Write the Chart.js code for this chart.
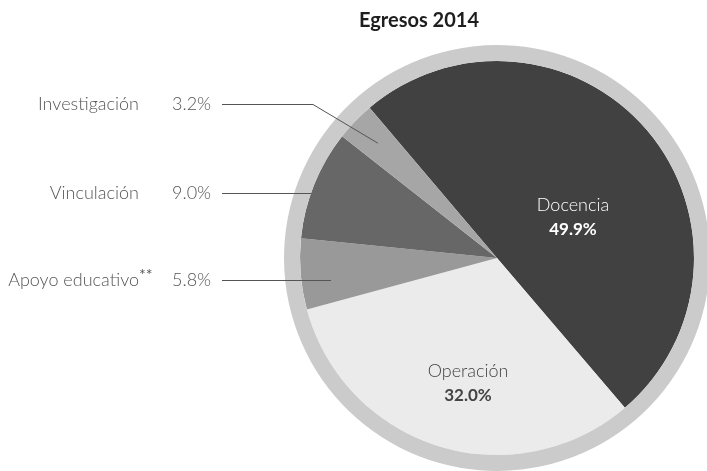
<!DOCTYPE html>
<html>
<head>
<meta charset="utf-8">
<script src="https://cdn.jsdelivr.net/npm/chart.js@4"></script>
<style>
  html, body { margin: 0; padding: 0; background: #fff; overflow: hidden; }
  #wrap { position: absolute; left: 0; top: 0; width: 720px; height: 471px; }
</style>
</head>
<body>
<div id="wrap"><canvas id="c"></canvas></div>
<script>
// ---- data ----
const title = 'Egresos 2014';
const categories = ['Docencia', 'Operación', 'Apoyo educativo', 'Vinculación', 'Investigación'];
const values = [49.9, 32.0, 5.8, 9.0, 3.2];
const footnotes = ['', '', '**', '', ''];

// ---- styles ----
const sliceColors = ['#414141', '#ebebeb', '#999999', '#676767', '#a6a6a6'];
const ringColor = '#cbcbcb';
const FONT = 'Lato, "Open Sans", sans-serif';

const fmt = v => v.toFixed(1) + '%';

const labelPlugin = {
  id: 'labels',
  afterDraw(chart) {
    const ctx = chart.ctx;
    const arcs = chart.getDatasetMeta(1).data;
    const a0 = arcs[0];
    const cx = a0.x, cy = a0.y, R = a0.outerRadius;
    ctx.save();

    // title
    ctx.fillStyle = '#1e1e1e';
    ctx.font = 'bold 20px ' + FONT;
    ctx.textAlign = 'center';
    ctx.textBaseline = 'middle';
    ctx.fillText(title, 419, 21);

    // inside labels (relative to pie centre)
    const inside = { 0: { dx: 76, dy: -41, name: '#ffffff', pct: '#ffffff' },
                     1: { dx: -29, dy: 125, name: '#444444', pct: '#444444' } };
    Object.keys(inside).forEach(k => {
      const i = +k, o = inside[k];
      const x = cx + o.dx, y = cy + o.dy;
      ctx.textAlign = 'center';
      ctx.textBaseline = 'middle';
      ctx.fillStyle = o.name;
      ctx.font = '300 18px ' + FONT;
      ctx.fillText(categories[i], x, y - 12);
      ctx.fillStyle = o.pct;
      ctx.font = 'bold 17px ' + FONT;
      ctx.fillText(fmt(values[i]), x, y + 13);
    });

    // outside labels with leader lines
    const outside = [
      { i: 4, y: 104, elbow: 313, rf: 0.84 },
      { i: 3, y: 193, rf: 1.0 },
      { i: 2, y: 280, rf: 0.85 }
    ];
    outside.forEach(o => {
      const arc = arcs[o.i];
      ctx.fillStyle = '#555555';
      ctx.textBaseline = 'middle';
      ctx.font = '300 18px ' + FONT;
      ctx.textAlign = 'right';
      ctx.fillText(categories[o.i], 139, o.y);
      if (footnotes[o.i]) {
        ctx.textAlign = 'left';
        ctx.font = '16px ' + FONT;
        ctx.fillText(footnotes[o.i], 139, o.y - 5);
      }
      ctx.textAlign = 'left';
      ctx.font = '300 18px ' + FONT;
      ctx.fillText(fmt(values[o.i]), 172, o.y);

      ctx.strokeStyle = '#555555';
      ctx.lineWidth = 1;
      ctx.beginPath();
      ctx.moveTo(222, o.y + 0.5);
      if (o.elbow) {
        const mid = (arc.startAngle + arc.endAngle) / 2;
        const r = o.rf * R;
        ctx.lineTo(o.elbow, o.y + 0.5);
        ctx.lineTo(cx + Math.cos(mid) * r, cy + Math.sin(mid) * r);
      } else {
        const r = o.rf * R, dy = o.y - cy;
        ctx.lineTo(cx - Math.sqrt(r * r - dy * dy), o.y + 0.5);
      }
      ctx.stroke();
    });
    ctx.restore();
  }
};

new Chart(document.getElementById('c'), {
  type: 'doughnut',
  data: {
    labels: categories,
    datasets: [
      { data: [1], backgroundColor: [ringColor], borderWidth: 0, weight: 16 },
      { data: values, backgroundColor: sliceColors, borderWidth: 0, weight: 197 }
    ]
  },
  options: {
    responsive: true,
    maintainAspectRatio: false,
    animation: false,
    events: [],
    cutout: 0,
    rotation: -40.3,
    layout: { padding: { left: 284, right: 10, top: 45, bottom: 0 } },
    plugins: { legend: { display: false }, tooltip: { enabled: false }, title: { display: false } }
  },
  plugins: [labelPlugin]
});
</script>
</body>
</html>
